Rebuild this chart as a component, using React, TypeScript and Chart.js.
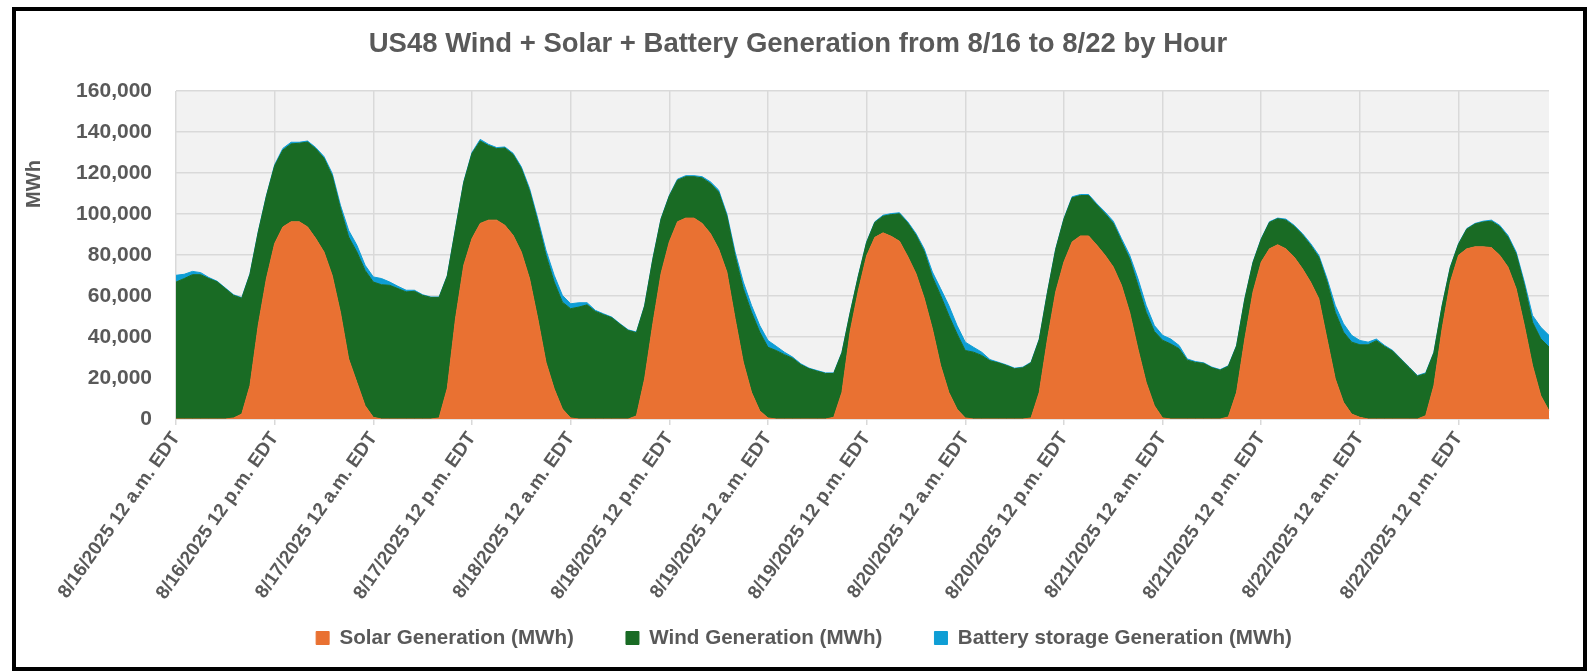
import React, { useEffect, useRef } from "react";
import { Chart, registerables } from "chart.js";

Chart.register(...registerables);

// Hourly categories, 8/16 12 a.m. through 8/22 11 p.m. (EDT)
const days = ["8/16/2025", "8/17/2025", "8/18/2025", "8/19/2025", "8/20/2025", "8/21/2025", "8/22/2025"];
const hours = [
  "12 a.m.", "1 a.m.", "2 a.m.", "3 a.m.", "4 a.m.", "5 a.m.", "6 a.m.", "7 a.m.", "8 a.m.", "9 a.m.", "10 a.m.", "11 a.m.",
  "12 p.m.", "1 p.m.", "2 p.m.", "3 p.m.", "4 p.m.", "5 p.m.", "6 p.m.", "7 p.m.", "8 p.m.", "9 p.m.", "10 p.m.", "11 p.m.",
];
const categories = days.flatMap((d) => hours.map((h) => `${d} ${h} EDT`));

// Solar generation, MWh
const solar = [
  0, 0, 0, 0, 0, 0, 0, 500, 2400, 16300, 45600, 68500, 85600, 93700, 96200, 96200, 93700, 88000, 81500, 70000, 52000, 29300, 17900, 6500,
  800, 0, 0, 0, 0, 0, 0, 0, 500, 15000, 49000, 75000, 88000, 95400, 97000, 97000, 94500, 89600, 81500, 68500, 49000, 27700, 14700, 4900,
  500, 0, 0, 0, 0, 0, 0, 0, 1500, 19600, 46500, 71000, 86400, 96200, 98000, 98000, 95400, 90500, 83000, 71700, 49000, 27700, 13000, 4000,
  500, 0, 0, 0, 0, 0, 0, 0, 800, 13000, 42700, 62700, 79600, 88600, 90800, 89100, 86700, 79300, 71000, 59000, 44000, 26100, 13000, 4800,
  500, 0, 0, 0, 0, 0, 0, 0, 500, 13000, 39000, 62000, 76600, 86400, 89300, 89300, 84800, 79900, 74200, 65200, 52000, 34200, 17900, 6500,
  500, 0, 0, 0, 0, 0, 0, 0, 1000, 13000, 39000, 62000, 76600, 83000, 85000, 83000, 79000, 73400, 66800, 58700, 39000, 19600, 8200, 2400,
  800, 0, 0, 0, 0, 0, 0, 0, 1600, 16300, 44000, 66800, 79900, 83000, 84000, 84000, 83600, 79900, 74200, 63600, 45600, 26000, 11400, 4000,
];

// Wind generation, MWh
const wind = [
  66800, 68500, 70400, 70400, 68500, 66900, 63600, 59800, 56500, 54300, 45400, 40200, 37900, 37500, 38000, 38300, 41400, 43800, 45700, 48600, 50700, 59500, 63600, 66000,
  66000, 65500, 65200, 63600, 62000, 62300, 60300, 59300, 58800, 54700, 43700, 40400, 41500, 40200, 36400, 34900, 37700, 39400, 40700, 42800, 47300, 52200, 52100, 52100,
  53300, 54600, 55700, 52500, 50900, 49400, 46200, 43200, 40600, 35500, 31400, 26500, 22300, 20300, 20200, 20200, 22200, 24400, 27700, 27300, 30700, 35900, 39100, 38400,
  34500, 33400, 31400, 29600, 26500, 24500, 23300, 22200, 21400, 19300, 9000, 7000, 6500, 7300, 8100, 10600, 13400, 16300, 18700, 22800, 25300, 34200, 37500, 36700,
  32900, 32600, 31000, 28400, 27400, 26100, 24500, 25000, 26900, 25700, 22700, 20700, 20900, 21500, 19700, 19700, 19600, 20300, 21300, 21500, 26100, 31000, 34200, 36200,
  37900, 36600, 34300, 28700, 27600, 27100, 25000, 23800, 24700, 22600, 19400, 14300, 11100, 12900, 12700, 14000, 15000, 16500, 18000, 20200, 28000, 32500, 34200, 35100,
  35400, 36200, 38200, 35400, 33000, 29000, 25000, 20900, 20500, 16000, 11100, 7100, 5400, 9600, 11100, 12100, 12900, 14000, 14600, 16900, 19700, 21200, 27700, 31100,
];

// Battery storage generation, MWh
const battery = [
  3300, 2100, 1600, 1000, 500, 300, 300, 300, 300, 300, 300, 300, 500, 800, 800, 500, 500, 600, 800, 1200, 1600, 3200, 3300, 2500,
  2500, 3000, 1600, 1100, 800, 500, 300, 200, 200, 300, 300, 300, 500, 800, 600, 500, 500, 600, 800, 1200, 1500, 2400, 3300, 3300,
  2400, 2100, 1000, 500, 400, 300, 300, 300, 300, 300, 300, 300, 300, 500, 500, 500, 600, 800, 1000, 1000, 1800, 3200, 3300, 3200,
  3300, 2100, 1200, 600, 400, 300, 300, 300, 300, 300, 300, 300, 300, 300, 500, 500, 500, 600, 800, 1200, 2400, 3300, 4900, 4100,
  4100, 2400, 1600, 600, 300, 300, 300, 300, 300, 300, 300, 300, 300, 500, 500, 500, 600, 800, 1000, 1300, 1800, 3300, 3300, 2900,
  2400, 2400, 1600, 600, 400, 300, 300, 300, 300, 300, 300, 300, 300, 300, 300, 500, 500, 600, 800, 1000, 1500, 3300, 4100, 3300,
  2100, 1300, 800, 500, 400, 300, 300, 300, 400, 300, 300, 300, 300, 300, 300, 400, 500, 600, 800, 1000, 1500, 3300, 5700, 5700,
];

const Y_MIN = 0;
const Y_MAX = 160000;
const Y_STEP = 20000;
const LABEL_EVERY = 12;

const TEXT = "#595959";
const GRID = "#D9D9D9";
const PLOT_BG = "#F2F2F2";
const ORANGE = "#E97132";
const GREEN = "#196B24";
const BLUE = "#0F9ED5";
const FONT = "'Liberation Sans', Arial, 'DejaVu Sans', sans-serif";

// Legend row sits this far below the plot's bottom edge (over the lower part of the axis block)
const LEGEND_OFFSET = 156.7;
const LEGEND_BOX_HEIGHT = 100;
const TITLE_SHIFT = -6;

// Light grey fill behind the plotting area
const plotBackground = {
  id: "plotBackground",
  beforeDraw(chart: any) {
    const { ctx, chartArea: a } = chart;
    ctx.save();
    ctx.fillStyle = PLOT_BG;
    ctx.fillRect(a.left, a.top, a.right - a.left, a.bottom - a.top);
    ctx.restore();
  },
};

// Fine placement of the legend row and the title after Chart.js has laid out its boxes
const blockPlacement = {
  id: "blockPlacement",
  afterLayout(chart: any) {
    const lg = chart.legend;
    if (lg) {
      lg.top = chart.chartArea.bottom + LEGEND_OFFSET;
      lg.bottom = lg.top + LEGEND_BOX_HEIGHT;
      lg.height = LEGEND_BOX_HEIGHT;
    }
    const t = chart.titleBlock;
    if (t) {
      t.left += TITLE_SHIFT;
      t.right += TITLE_SHIFT;
    }
  },
};

// Rotated "MWh" axis caption, placed toward the upper part of the value axis
const yAxisCaption = {
  id: "yAxisCaption",
  afterDraw(chart: any) {
    const { ctx, chartArea: a } = chart;
    ctx.save();
    ctx.translate(a.left - 142, a.top + 93);
    ctx.rotate(-Math.PI / 2);
    ctx.font = `bold 20px ${FONT}`;
    ctx.fillStyle = TEXT;
    ctx.textAlign = "center";
    ctx.textBaseline = "middle";
    ctx.fillText("MWh", 0, 0);
    ctx.restore();
  },
};

export default function App() {
  const canvasRef = useRef<HTMLCanvasElement>(null);

  useEffect(() => {
    const canvas = canvasRef.current;
    if (!canvas) return;
    Chart.defaults.font.family = FONT;
    Chart.defaults.font.weight = "bold";
    Chart.defaults.color = TEXT;

    const gridColor = (c: any) => (c.index % LABEL_EVERY === 0 ? GRID : "rgba(0,0,0,0)");

    const chart = new Chart(canvas, {
      type: "line",
      data: {
        labels: categories,
        datasets: [
          {
            label: "Solar Generation (MWh)",
            data: solar,
            backgroundColor: ORANGE,
            borderColor: ORANGE,
            borderWidth: 1,
            fill: "origin",
            pointRadius: 0,
            tension: 0,
          },
          {
            label: "Wind Generation (MWh)",
            data: wind,
            backgroundColor: GREEN,
            borderColor: GREEN,
            borderWidth: 1,
            fill: "-1",
            pointRadius: 0,
            tension: 0,
          },
          {
            label: "Battery storage Generation (MWh)",
            data: battery,
            backgroundColor: BLUE,
            borderColor: BLUE,
            borderWidth: 1,
            fill: "-1",
            pointRadius: 0,
            tension: 0,
          },
        ],
      },
      options: {
        responsive: false,
        animation: false,
        events: [],
        layout: { padding: { left: 59, right: 42, top: 11, bottom: 14 } },
        plugins: {
          title: {
            display: true,
            text: "US48 Wind + Solar + Battery Generation from 8/16 to 8/22 by Hour",
            color: TEXT,
            font: { size: 27.5, weight: "bold", family: FONT },
            padding: { top: 17, bottom: 30 },
          },
          legend: {
            position: "bottom",
            maxHeight: 57,
            labels: {
              boxWidth: 13,
              boxHeight: 13,
              padding: 52,
              color: TEXT,
              font: { size: 20.6, weight: "bold", family: FONT },
            },
          },
          tooltip: { enabled: false },
        },
        scales: {
          x: {
            type: "category",
            offset: false,
            grid: {
              color: gridColor,
              tickColor: gridColor,
              lineWidth: 1.5,
              drawTicks: true,
              tickLength: 6,
            },
            border: { color: GRID, width: 1.5 },
            ticks: {
              autoSkip: false,
              minRotation: 55,
              maxRotation: 55,
              padding: 3,
              color: TEXT,
              font: { size: 19, weight: "bold", family: FONT },
              callback: (_v: any, i: number) => (i % LABEL_EVERY === 0 ? categories[i] : ""),
            },
            afterFit: (s: any) => {
              s.height = 182;
            },
          },
          y: {
            stacked: true,
            min: Y_MIN,
            max: Y_MAX,
            grid: { color: GRID, lineWidth: 1.5, drawTicks: false },
            border: { display: false },
            ticks: {
              stepSize: Y_STEP,
              padding: 24,
              color: TEXT,
              font: { size: 21, weight: "bold", family: FONT },
              callback: (v: any) => Number(v).toLocaleString("en-US"),
            },
            afterFit: (s: any) => {
              s.width = 117;
            },
          },
        },
      },
      plugins: [plotBackground, blockPlacement, yAxisCaption],
    } as any);

    return () => chart.destroy();
  }, []);

  return (
    <div style={{ position: "absolute", left: 0, top: 0, width: 1591, height: 672, background: "#ffffff" }}>
      <canvas ref={canvasRef} width={1591} height={672} style={{ position: "absolute", left: 0, top: 0 }} />
      <div
        style={{
          position: "absolute",
          left: 12,
          top: 7,
          width: 1575,
          height: 664,
          border: "4px solid #000000",
          boxSizing: "border-box",
          pointerEvents: "none",
        }}
      />
    </div>
  );
}
